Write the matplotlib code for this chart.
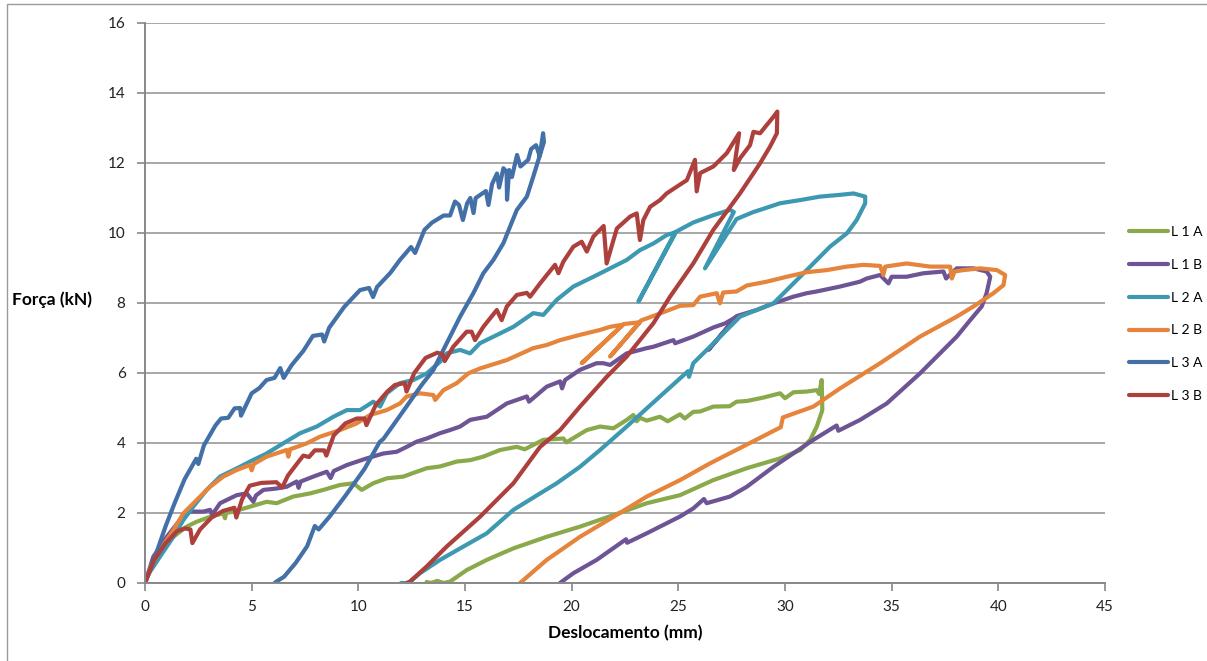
import matplotlib
matplotlib.use("Agg")
import matplotlib.pyplot as plt
from matplotlib.patches import Rectangle

plt.rcParams['font.family'] = ['Lato', 'DejaVu Sans']

# Ensaios de carga/descarga: deslocamento (mm) x força (kN)
l1a_x = [0, 0.3, 0.7, 1.33, 1.95, 2.42, 3.05, 3.67, 3.75, 3.8, 4.14, 4.92, 5.7, 6.17, 6.95,
         7.74, 8.36, 9.14, 9.77, 10.16, 10.7, 11.33, 12.11, 12.74, 13.21, 13.83, 14.61, 15.24,
         15.86, 16.64, 17.43, 17.8, 18.67, 19.61, 19.75, 20.71, 21.33, 21.96, 22.58, 22.89,
         23.05, 23.2, 23.52, 24.14, 24.5, 25.08, 25.3, 25.7, 26.02, 26.64, 27.4, 27.73, 28.21,
         29.0, 29.77, 30.0, 30.4, 31.02, 31.49, 31.6, 31.72, 31.75,
         31.49, 31.18, 30.71, 29.77, 28.21, 26.64, 25.08, 23.52, 21.96, 20.39, 18.83, 17.27,
         16.02, 15.08, 14.3, 14.0, 13.7, 13.4, 13.2]
l1a_y = [0, 0.45, 0.94, 1.32, 1.61, 1.75, 1.89, 1.99, 1.85, 2.0, 2.04, 2.18, 2.32, 2.28, 2.47,
         2.56, 2.66, 2.8, 2.85, 2.66, 2.85, 2.99, 3.04, 3.18, 3.28, 3.33, 3.47, 3.51,
         3.61, 3.8, 3.89, 3.82, 4.09, 4.13, 4.02, 4.37, 4.47, 4.42, 4.66, 4.8,
         4.62, 4.72, 4.64, 4.75, 4.62, 4.82, 4.7, 4.89, 4.9, 5.04, 5.05, 5.18, 5.2,
         5.3, 5.42, 5.28, 5.45, 5.47, 5.51, 5.4, 5.8, 4.94,
         4.47, 4.09, 3.8, 3.56, 3.28, 2.94, 2.51, 2.28, 1.94, 1.61, 1.32, 0.99,
         0.66, 0.37, 0.04, 0.0, 0.06, 0.0, 0.03]

l1b_x = [0, 0.39, 1.02, 1.64, 2.11, 2.73, 3.05, 3.15, 3.52, 4.3, 4.77, 5.08, 5.2, 5.55, 6.17,
         6.64, 7.11, 7.2, 7.3, 7.89, 8.52, 8.7, 8.85, 9.46, 10.39, 11.17, 11.8, 12.27, 12.74,
         13.21, 13.83, 14.3, 14.77, 15.24, 16.02, 16.96, 17.9, 18.0, 18.83, 19.46, 19.55,
         19.69, 20.39, 21.17, 21.49, 21.8, 22.58, 23.52, 23.83, 24.77, 24.85, 25.7, 26.64,
         27.2, 27.73, 26.41, 27.75, 28.67, 29.46, 30.39, 31.02, 31.49, 32.58, 33.52, 33.83,
         34.46, 34.85, 35.0, 35.7, 36.49, 37.43, 37.55, 38.05, 38.83, 39.45, 39.62,
         39.45, 39.22, 38.68, 38.05, 36.33, 34.77, 33.52, 32.5, 32.42, 31.33, 29.46, 28.21,
         27.42, 26.33, 26.2, 25.7, 25.08, 23.52, 22.6, 22.55, 21.17, 20.08, 19.45]
l1b_y = [0, 0.75, 1.32, 1.8, 2.04, 2.04, 2.09, 1.95, 2.28, 2.51, 2.56, 2.32, 2.5, 2.66, 2.7,
         2.75, 2.9, 2.72, 2.9, 3.04, 3.18, 3.0, 3.2, 3.37, 3.56, 3.7, 3.75, 3.89, 4.04,
         4.13, 4.28, 4.37, 4.47, 4.66, 4.75, 5.13, 5.33, 5.18, 5.61, 5.76, 5.56,
         5.8, 6.09, 6.28, 6.28, 6.23, 6.56, 6.71, 6.75, 6.94, 6.85, 7.04, 7.3,
         7.42, 7.61, 6.66, 7.63, 7.8, 7.99, 8.18, 8.28, 8.33, 8.47, 8.61, 8.7,
         8.8, 8.56, 8.75, 8.75, 8.85, 8.9, 8.7, 8.99, 8.99, 8.9, 8.75,
         8.28, 7.9, 7.51, 7.04, 5.99, 5.13, 4.66, 4.35, 4.5, 4.09, 3.32, 2.75,
         2.47, 2.28, 2.4, 2.13, 1.9, 1.42, 1.15, 1.25, 0.66, 0.28, 0.0]

l2a_x = [0, 0.08, 0.7, 1.33, 1.8, 2.26, 2.89, 3.52, 4.45, 4.92, 5.7, 6.48, 7.27, 8.05, 8.83,
         9.46, 10.08, 10.7, 11.02, 11.33, 11.95, 12.58, 13.21, 13.83, 14.14, 14.77, 15.24,
         15.7, 16.64, 17.27, 18.2, 18.67, 19.3, 20.08, 21.02, 21.64, 22.58, 23.2, 23.83,
         24.45, 24.85,
         23.13, 24.9, 25.7, 26.64, 27.42, 27.6,
         26.25, 27.73, 28.52, 28.83, 29.77, 30.71, 31.64, 32.58, 33.21, 33.76,
         33.76, 33.36, 32.9, 32.11, 31.02, 29.46, 27.89, 26.8, 25.7, 25.5, 25.45, 24.14,
         22.58, 21.33, 20.39, 19.3, 18.52, 17.27, 16.02, 14.92, 13.83, 12.89, 12.35, 12.0]
l2a_y = [0, 0.18, 0.75, 1.32, 1.8, 2.18, 2.66, 3.04, 3.32, 3.47, 3.7, 3.99, 4.28, 4.47, 4.75,
         4.94, 4.94, 5.18, 5.04, 5.42, 5.71, 5.8, 5.99, 6.32, 6.56, 6.66, 6.56,
         6.85, 7.13, 7.32, 7.71, 7.66, 8.09, 8.47, 8.75, 8.94, 9.23, 9.51, 9.7,
         9.94, 10.02,
         8.04, 10.04, 10.3, 10.51, 10.66, 10.6,
         8.99, 10.4, 10.6, 10.66, 10.85, 10.94, 11.04, 11.09, 11.13, 11.04,
         10.85, 10.37, 9.99, 9.61, 8.94, 7.99, 7.61, 6.94, 6.28, 5.89, 6.05, 5.33,
         4.47, 3.8, 3.32, 2.85, 2.56, 2.09, 1.42, 1.04, 0.66, 0.28, 0.0, 0.0]

l2b_x = [0, 0.3, 0.7, 1.33, 1.8, 2.42, 3.05, 3.67, 4.3, 4.92, 5.0, 5.1, 5.7, 6.64, 6.72, 6.8,
         7.58, 8.2, 9.14, 9.92, 10.55, 11.33, 11.95, 12.27, 12.89, 13.52, 13.6, 13.99, 14.61,
         15.16, 15.7, 16.96, 18.2, 18.83, 19.46, 20.39, 21.33, 21.8, 22.4,
         20.47, 22.45, 23.2, 21.8, 23.25, 24.14, 25.08, 25.7, 26.02, 26.8, 26.95, 27.1,
         27.73, 28.21, 29.15, 30.08, 31.02, 31.96, 32.9, 33.68, 34.46, 34.61, 34.7, 35.7,
         36.8, 37.74, 37.82, 37.95, 38.36, 39.15, 39.93, 40.32, 40.24,
         39.77, 38.83, 38.05, 36.33, 34.46, 32.58, 31.33, 29.9, 29.8, 26.49, 25.08, 23.52,
         21.96, 20.39, 18.83, 17.58]
l2b_y = [0, 0.5, 0.94, 1.51, 1.99, 2.37, 2.75, 3.04, 3.23, 3.37, 3.22, 3.4, 3.61, 3.8, 3.61, 3.82,
         3.99, 4.18, 4.37, 4.56, 4.8, 4.94, 5.13, 5.33, 5.42, 5.37, 5.23, 5.51, 5.71,
         5.99, 6.13, 6.37, 6.71, 6.8, 6.94, 7.09, 7.23, 7.32, 7.38,
         6.28, 7.4, 7.45, 6.47, 7.5, 7.7, 7.92, 7.94, 8.18, 8.28, 7.99, 8.3,
         8.33, 8.5, 8.61, 8.75, 8.88, 8.94, 9.04, 9.09, 9.06, 8.8, 9.04, 9.13,
         9.04, 9.04, 8.7, 8.9, 8.94, 8.99, 8.94, 8.8, 8.51,
         8.28, 7.9, 7.61, 7.04, 6.28, 5.56, 5.04, 4.73, 4.45, 3.42, 2.94, 2.47,
         1.89, 1.32, 0.66, 0.0]

l3a_x = [0, 0.5, 0.97, 1.4, 1.86, 2.4, 2.5, 2.76, 3.3, 3.57, 3.9, 4.2, 4.46, 4.5, 5.0, 5.36,
         5.7, 6.07, 6.34, 6.5, 6.88, 7.42, 7.87, 8.3, 8.4, 8.63, 9.34, 10.08, 10.5, 10.69,
         10.88, 11.5, 11.95, 12.47, 12.66, 13.1, 13.46, 14.0, 14.3, 14.53, 14.72, 14.9, 15.1,
         15.25, 15.4, 15.5, 15.98, 16.1, 16.27, 16.5, 16.6, 16.8, 16.95, 16.97, 17.07, 17.2,
         17.44, 17.6, 17.96, 18.1, 18.33, 18.5, 18.66, 18.7,
         18.2, 17.9, 17.43, 17.11, 16.8, 16.33, 15.86, 15.39, 14.77, 14.3, 13.83, 13.52,
         12.97, 12.08, 11.18, 11.0, 10.29, 9.39, 8.67, 8.14, 7.96, 7.6, 7.06, 6.52, 6.16, 6.07]
l3a_y = [0, 0.8, 1.63, 2.3, 2.97, 3.55, 3.4, 3.93, 4.5, 4.7, 4.72, 4.99, 5.0, 4.78, 5.42, 5.57,
         5.8, 5.86, 6.14, 5.86, 6.23, 6.63, 7.06, 7.1, 6.9, 7.29, 7.89, 8.37, 8.43, 8.17,
         8.46, 8.86, 9.23, 9.6, 9.43, 10.09, 10.3, 10.5, 10.5, 10.9, 10.8, 10.37, 10.85,
         11.0, 10.57, 11.0, 11.2, 10.8, 11.4, 11.7, 11.3, 11.85, 11.75, 10.95, 11.8, 11.6,
         12.23, 11.9, 12.09, 12.4, 12.51, 12.2, 12.85, 12.6,
         11.61, 11.04, 10.66, 10.18, 9.71, 9.23, 8.85, 8.28, 7.61, 7.04, 6.47, 6.09,
         5.66, 4.89, 4.12, 4.03, 3.26, 2.49, 1.91, 1.53, 1.63, 1.05, 0.57, 0.18, 0.04, 0.0]

l3b_x = [0, 0.43, 0.97, 1.5, 1.86, 2.13, 2.22, 2.58, 3.12, 3.66, 4.19, 4.28, 4.55, 4.91, 5.45,
         6.16, 6.43, 6.7, 7.24, 7.42, 7.69, 7.96, 8.4, 8.5, 8.85, 9.39, 9.93, 10.29, 10.38,
         10.82, 11.36, 11.72, 12.17, 12.26, 12.62, 13.15, 13.7, 13.96, 14.05, 14.45, 15.08,
         15.31, 15.47, 15.86, 16.49, 16.72, 16.96, 17.43, 17.9, 18.05, 18.52, 19.22, 19.38,
         19.61, 20.08, 20.47, 20.71, 21.02, 21.5, 21.64, 21.96, 22.12, 22.74, 23.05, 23.2,
         23.36, 23.68, 24.14, 24.45, 24.92, 25.4, 25.78, 25.86, 26.02, 26.64, 27.27, 27.85,
         27.6, 27.9, 28.36, 28.52, 28.83, 29.15, 29.46, 29.64,
         29.62, 29.3, 28.83, 27.89, 26.64, 25.7, 24.61, 23.83, 22.58, 21.64, 20.39, 19.46,
         18.52, 17.27, 15.7, 14.14, 13.2, 12.42, 12.27]
l3b_y = [0, 0.66, 1.14, 1.48, 1.56, 1.53, 1.14, 1.53, 1.87, 2.06, 2.15, 1.87, 2.39, 2.78, 2.86,
         2.88, 2.73, 3.07, 3.5, 3.64, 3.6, 3.79, 3.79, 3.64, 4.22, 4.56, 4.7, 4.7, 4.51,
         5.09, 5.47, 5.66, 5.71, 5.47, 6.0, 6.43, 6.58, 6.53, 6.34, 6.75, 7.18,
         7.18, 6.94, 7.32, 7.8, 7.51, 7.9, 8.23, 8.29, 8.18, 8.56, 9.09, 8.85,
         9.18, 9.61, 9.75, 9.47, 9.9, 10.2, 9.13, 9.8, 10.13, 10.47, 10.56, 9.8,
         10.37, 10.75, 10.94, 11.13, 11.32, 11.51, 12.09, 11.19, 11.71, 11.9, 12.28, 12.85,
         11.8, 12.14, 12.51, 12.89, 12.85, 13.09, 13.32, 13.47,
         12.85, 12.47, 11.99, 11.13, 10.09, 9.13, 8.18, 7.42, 6.47, 5.89, 5.04, 4.37,
         3.89, 2.85, 1.89, 1.04, 0.47, 0.04, 0.0]

series = [
    ("L 1 A", l1a_x, l1a_y, "#8aa94a"),
    ("L 1 B", l1b_x, l1b_y, "#6d5495"),
    ("L 2 A", l2a_x, l2a_y, "#3d99b1"),
    ("L 2 B", l2b_x, l2b_y, "#e5843a"),
    ("L 3 A", l3a_x, l3a_y, "#4470a8"),
    ("L 3 B", l3b_x, l3b_y, "#ad403d"),
]

W, H = 1207, 661
fig = plt.figure(figsize=(W / 100, H / 100), dpi=100)
ax = fig.add_axes([145 / W, 1 - 583 / H, 960 / W, 560 / H])

for name, xs, ys, color in series:
    ax.plot(xs, ys, color=color, lw=3.0, label=name,
            solid_joinstyle="round", solid_capstyle="round")

ax.set_xlim(0, 45)
ax.set_ylim(0, 16)
ax.set_xticks(range(0, 46, 5))
ax.set_yticks(range(0, 17, 2))
ax.grid(axis="y", color="#a0a0a0", lw=1.3)
ax.set_axisbelow(True)
for side in ("top", "right"):
    ax.spines[side].set_visible(False)
for side in ("left", "bottom"):
    ax.spines[side].set_color("#888888")
    ax.spines[side].set_linewidth(1.4)
ax.tick_params(axis="both", direction="out", length=6, width=1.2, color="#888888",
               labelsize=11, labelcolor="#222222")
ax.tick_params(axis="y", pad=8)
ax.tick_params(axis="x", pad=6)

ax.set_xlabel("Deslocamento (mm)", fontsize=12.5, fontweight="bold", labelpad=8)
fig.text(12 / W, 1 - 300 / H, "Força (kN)", fontsize=12.5, fontweight="bold",
         ha="left", va="center")

ax.legend(loc="center left", bbox_to_anchor=(1122 / W, 1 - 314 / H),
          bbox_transform=fig.transFigure, frameon=False, fontsize=10,
          handlelength=2.8, handletextpad=0.25, labelspacing=1.5, borderpad=0)

# moldura externa do gráfico
fig.patches.append(Rectangle((7 / W, -0.05), 1.1, 1 - 4 / H + 0.05,
                             transform=fig.transFigure, fill=False,
                             edgecolor="#9a9a9a", lw=1.0))

fig.savefig("out.png", dpi=100)
